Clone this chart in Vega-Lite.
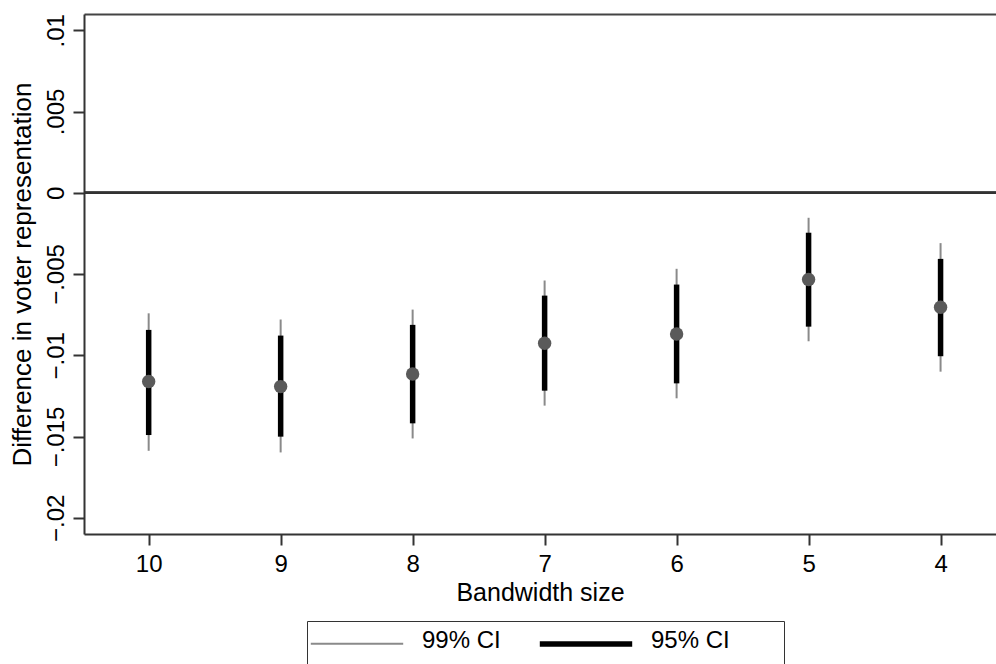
{
  "$schema": "https://vega.github.io/schema/vega-lite/v6.json",
  "autosize": {"type": "none"},
  "padding": {"left": 84, "top": 14, "right": 0, "bottom": 130},
  "width": 912,
  "height": 520,
  "background": "white",
  "config": {
    "font": "Liberation Sans",
    "view": {"stroke": null},
    "axis": {
      "domainColor": "#333333",
      "domainWidth": 2,
      "tickColor": "#333333",
      "tickWidth": 2,
      "tickSize": 11,
      "labelFont": "Liberation Sans",
      "labelFontSize": 24,
      "labelColor": "#000000",
      "titleFont": "Liberation Sans",
      "titleFontSize": 24,
      "titleFontWeight": "normal",
      "titleColor": "#000000",
      "grid": false
    },
    "legend": {
      "orient": "none",
      "legendX": 223,
      "legendY": 607,
      "direction": "horizontal",
      "columns": 2,
      "strokeColor": "#333333",
      "padding": 3,
      "symbolSize": 784,
      "symbolType": "M-3.3,0.2H3.3",
      "symbolOffset": 30,
      "labelFont": "Liberation Sans",
      "labelFontSize": 24,
      "labelColor": "#000000",
      "labelBaseline": "middle",
      "labelOffset": 48,
      "columnPadding": 27,
      "titleOrient": "right",
      "titleFontSize": 56,
      "titlePadding": 51
    }
  },
  "data": {
    "values": [
      {"bw": 10, "est": -0.01162, "lo95": -0.01491, "hi95": -0.00844, "lo99": -0.01588, "hi99": -0.00742},
      {"bw": 9, "est": -0.01193, "lo95": -0.01501, "hi95": -0.00879, "lo99": -0.01598, "hi99": -0.0078},
      {"bw": 8, "est": -0.01115, "lo95": -0.01419, "hi95": -0.00813, "lo99": -0.01512, "hi99": -0.00719},
      {"bw": 7, "est": -0.00926, "lo95": -0.01218, "hi95": -0.00633, "lo99": -0.0131, "hi99": -0.0054},
      {"bw": 6, "est": -0.00869, "lo95": -0.01173, "hi95": -0.00565, "lo99": -0.01265, "hi99": -0.00468},
      {"bw": 5, "est": -0.00534, "lo95": -0.00824, "hi95": -0.00246, "lo99": -0.00914, "hi99": -0.00154},
      {"bw": 4, "est": -0.00705, "lo95": -0.01006, "hi95": -0.00407, "lo99": -0.01101, "hi99": -0.0031}
    ]
  },
  "layer": [
    {
      "mark": {"type": "rule", "color": "#333333", "strokeWidth": 2},
      "encoding": {
        "y": {
          "datum": 0,
          "type": "quantitative",
          "title": "Difference in voter representation",
          "scale": {"domain": [-0.021, 0.011], "nice": false, "zero": false},
          "axis": {
            "values": [-0.02, -0.015, -0.01, -0.005, 0, 0.005, 0.01],
            "labelAngle": -90,
            "labelExpr": "datum.value == 0 ? '0' : replace(format(datum.value, '.3~f'), '0.', '.')",
            "labelPadding": 5,
            "titlePadding": 9,
            "titleFontSize": 26
          }
        }
      }
    },
    {
      "mark": {"type": "rule"},
      "encoding": {
        "x": {
          "field": "bw",
          "type": "quantitative",
          "title": "Bandwidth size",
          "scale": {"domain": [3.58, 10.49], "reverse": true, "nice": false, "zero": false},
          "axis": {
            "values": [4, 5, 6, 7, 8, 9, 10],
            "format": "d",
            "labelPadding": 7,
            "titlePadding": 4,
            "titleFontSize": 25
          }
        },
        "y": {"field": "lo99", "type": "quantitative", "title": "Difference in voter representation"},
        "y2": {"field": "hi99"},
        "color": {
          "datum": "99% CI",
          "type": "nominal",
          "scale": {"domain": ["99% CI", "95% CI"], "range": ["#8a8a8a", "#000000"]},
          "legend": {"title": "\u00a0", "labelOffset": 48, "columnPadding": 27, "padding": 3, "titlePadding": 51}
        },
        "strokeWidth": {
          "datum": "99% CI",
          "type": "nominal",
          "scale": {"domain": ["99% CI", "95% CI"], "range": [2, 5.5]},
          "legend": {"title": "\u00a0", "labelOffset": 48, "columnPadding": 27, "padding": 3, "titlePadding": 51}
        }
      }
    },
    {
      "mark": {"type": "rule"},
      "encoding": {
        "x": {"field": "bw", "type": "quantitative", "title": "Bandwidth size", "axis": null},
        "y": {"field": "lo95", "type": "quantitative", "title": "Difference in voter representation"},
        "y2": {"field": "hi95"},
        "color": {"datum": "95% CI", "type": "nominal"},
        "strokeWidth": {"datum": "95% CI", "type": "nominal"}
      }
    },
    {
      "mark": {"type": "point", "filled": true, "size": 180, "color": "#5a5a5a", "opacity": 1},
      "encoding": {
        "x": {
          "field": "bw",
          "type": "quantitative",
          "title": "Bandwidth size",
          "axis": {"orient": "top", "labels": false, "ticks": false, "title": null, "domainColor": "#444444", "domainWidth": 2}
        },
        "y": {"field": "est", "type": "quantitative", "title": "Difference in voter representation"}
      }
    }
  ],
  "resolve": {"axis": {"x": "independent"}}
}
